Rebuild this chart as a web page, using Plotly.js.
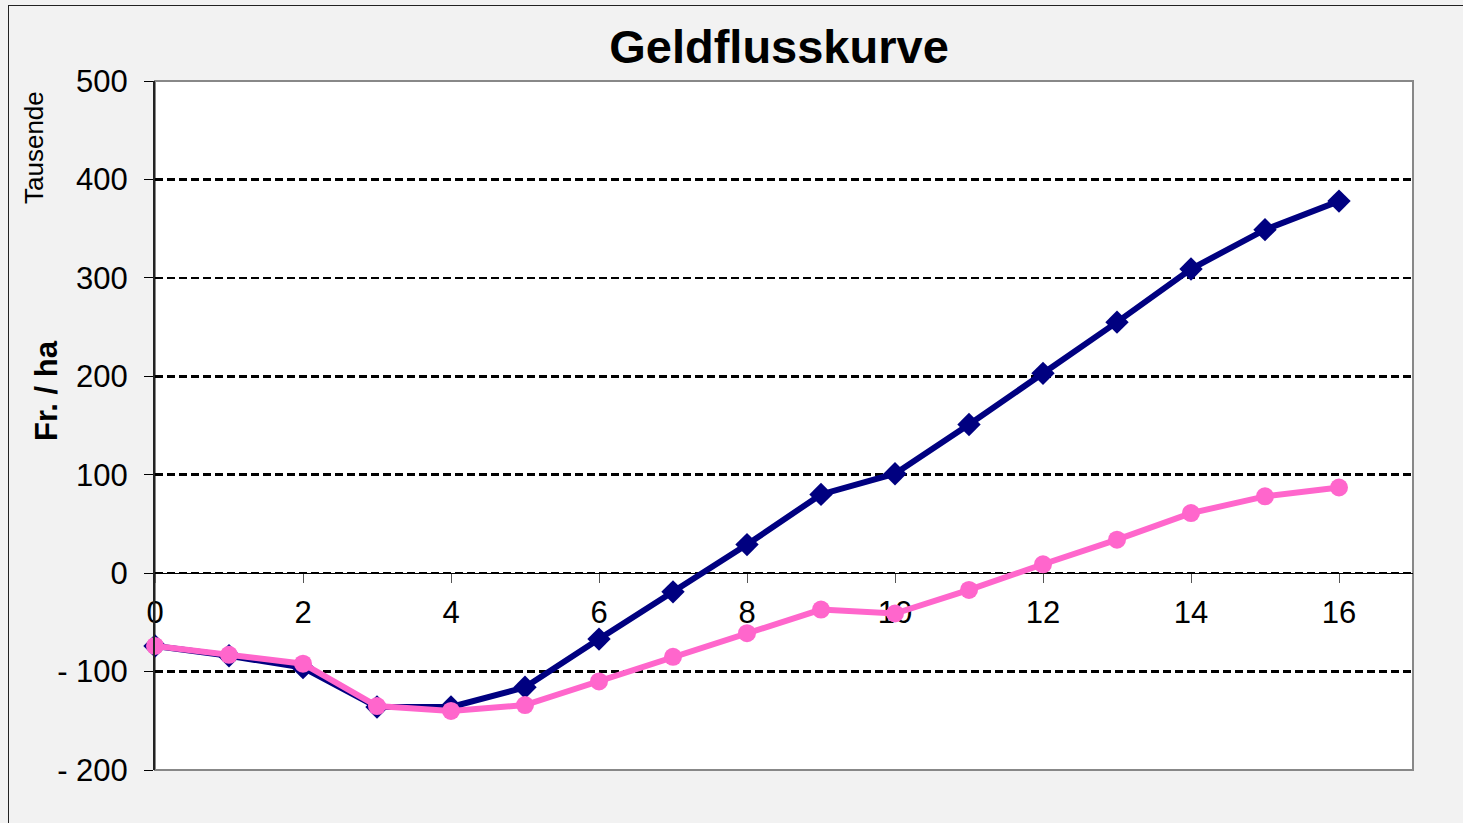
<!DOCTYPE html>
<html>
<head>
<meta charset="utf-8">
<script src="https://cdn.plot.ly/plotly-3.0.1.min.js"></script>
<style>
  html, body { margin: 0; padding: 0; background: #f2f2f2; overflow: hidden; }
  #frame { position: absolute; left: 8px; top: 5px; width: 1455px; height: 818px;
           border-left: 1px solid #222; border-top: 1px solid #222; }
  #chart { width: 1455px; height: 818px; }
</style>
</head>
<body>
<div id="frame"><div id="chart"></div></div>
<script>
// years 0..16
const years = [0, 1, 2, 3, 4, 5, 6, 7, 8, 9, 10, 11, 12, 13, 14, 15, 16];
// thousands of Fr. per ha
const blueFlow = [-74, -84, -96, -136, -136, -116, -67, -19, 29, 80, 101, 151, 203, 255, 309, 349, 378];
const pinkFlow = [-74, -83, -92, -135, -140, -134, -110, -85, -61, -37, -41, -17, 9, 34, 61, 78, 87];

const yTicks = [-200, -100, 0, 100, 200, 300, 400, 500];
const yTickText = ['- 200', '- 100', '0', '100', '200', '300', '400', '500'];
const xTicks = [0, 2, 4, 6, 8, 10, 12, 14, 16];

const blue = {
    x: years,
    y: blueFlow,
    type: 'scatter',
    mode: 'lines+markers',
    line: { color: '#000080', width: 6 },
    marker: { symbol: 'diamond', size: 18, color: '#000080' },
    cliponaxis: false,
    hoverinfo: 'x+y'
};

const pink = {
    x: years,
    y: pinkFlow,
    type: 'scatter',
    mode: 'lines+markers',
    line: { color: '#ff66cc', width: 6 },
    marker: { symbol: 'circle', size: 18, color: '#ff66cc' },
    cliponaxis: false,
    hoverinfo: 'x+y'
};

const font = { family: 'Arial, "Liberation Sans", sans-serif', color: '#000' };

const layout = {
    width: 1455,
    height: 818,
    margin: { l: 146, r: 51, t: 75, b: 54 },
    paper_bgcolor: '#f2f2f2',
    plot_bgcolor: '#ffffff',
    showlegend: false,
    font: font,
    title: {
        text: '<b>Geldflusskurve</b>',
        font: { family: font.family, size: 47, color: '#000' },
        x: (779 - 155) / 1258,
        xref: 'paper',
        y: 1 - 41 / 818,
        yref: 'container',
        yanchor: 'middle'
    },
    xaxis: {
        range: [0, 17],
        tickvals: xTicks,
        ticks: 'outside',
        ticklen: 9,
        tickcolor: '#555',
        tickwidth: 1,
        showgrid: false,
        zeroline: false,
        showline: true,
        linecolor: '#000',
        linewidth: 1,
        anchor: 'free',
        position: 2 / 7,
        ticklabelstandoff: 3,
        tickfont: { family: font.family, size: 31, color: '#000' },
        layer: 'below traces'
    },
    yaxis: {
        range: [-200, 500],
        tickvals: yTicks,
        ticktext: yTickText,
        ticks: 'outside',
        ticklen: 9,
        tickcolor: '#000',
        tickwidth: 1,
        showgrid: true,
        gridcolor: '#000',
        gridwidth: 2.5,
        griddash: '8px,4px',
        zeroline: false,
        showline: true,
        linecolor: '#222',
        linewidth: 2,
        ticklabelstandoff: 10,
        tickfont: { family: font.family, size: 31, color: '#000' }
    },
    shapes: [
        {
            type: 'rect', xref: 'paper', yref: 'paper',
            x0: 0, x1: 1, y0: 0, y1: 1,
            line: { color: '#888', width: 2 },
            layer: 'below'
        }
    ],
    annotations: [
        {
            text: '<b>Fr. / ha</b>',
            xref: 'paper', yref: 'paper',
            x: -109 / 1258, y: (770 - 391) / 689,
            xanchor: 'center', yanchor: 'middle',
            textangle: -90,
            showarrow: false,
            font: { family: font.family, size: 31, color: '#000' }
        },
        {
            text: 'Tausende',
            xref: 'paper', yref: 'paper',
            x: -121 / 1258, y: (770 - 148) / 689,
            xanchor: 'center', yanchor: 'middle',
            textangle: -90,
            showarrow: false,
            font: { family: font.family, size: 26, color: '#000' }
        }
    ]
};

Plotly.newPlot('chart', [blue, pink], layout, { displayModeBar: false, staticPlot: true });
</script>
</body>
</html>
